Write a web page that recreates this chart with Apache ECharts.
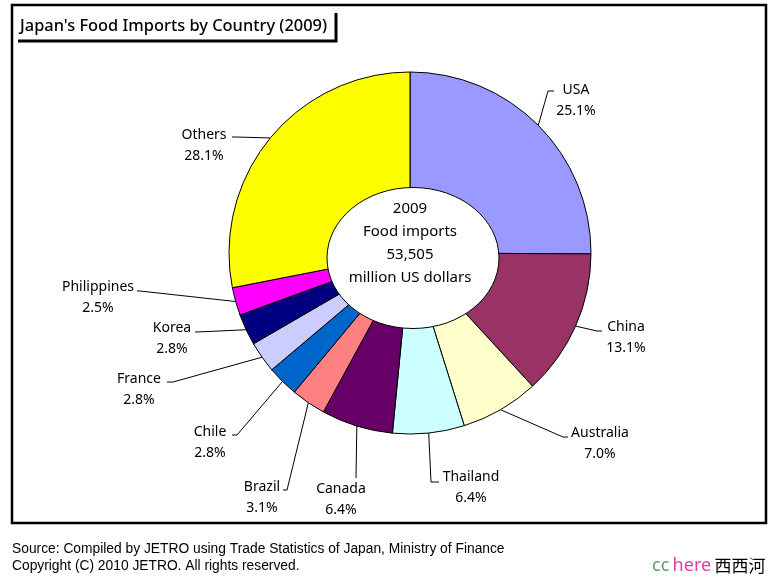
<!DOCTYPE html>
<html>
<head>
<meta charset="utf-8">
<title>Japan's Food Imports by Country (2009)</title>
<script src="https://cdn.jsdelivr.net/npm/echarts@6/dist/echarts.min.js"></script>
<style>
  html, body { margin: 0; padding: 0; background: #fff; }
  #chart { width: 775px; height: 579px; }
</style>
</head>
<body>
<div id="chart"></div>
<script>
// data, clockwise from 12 o'clock
const countries = ['USA', 'China', 'Australia', 'Thailand', 'Canada', 'Brazil', 'Chile', 'France', 'Korea', 'Philippines', 'Others']
const shares = [25.1, 13.1, 7.0, 6.4, 6.4, 3.1, 2.8, 2.8, 2.8, 2.5, 28.1]
const sliceColors = ['#9999ff', '#993366', '#ffffcc', '#ccffff', '#660066', '#ff8080', '#0066cc', '#ccccff', '#000080', '#ff00ff', '#ffff00']
const centerLines = ['2009', 'Food imports', '53,505', 'million US dollars']
const titleText = "Japan's Food Imports by Country (2009)"
const footerLines = [
  'Source: Compiled by JETRO using Trade Statistics of Japan, Ministry of Finance',
  'Copyright (C) 2010 JETRO. All rights reserved.',
]

// layout
const CX = 410
const CY = 253
const R = 181
const LINE_H = 21
// [text centre x, name line y, bend x, bend y, end x, end y]
const labelSpots = [
  [576, 90, 548, 91, 554, 91],
  [626, 327, 597, 331, 602, 331],
  [600, 433, 563, 437, 568, 437],
  [471, 477, 431, 482, 439, 482],
  [341, 489, 356, 478, 356, 478],
  [262, 487, 287, 490, 283, 490],
  [210, 432, 237, 435, 232, 435],
  [139, 379, 173, 382, 167, 382],
  [172, 328, 197, 332, 195, 332],
  [98, 287, 140, 291, 137, 291],
  [204, 135, 236, 137, 232, 137],
]

const FONT = "'Noto Sans', 'Noto Sans CJK JP', sans-serif"

// 扇区中点在外圆上的坐标
const total = shares.reduce((a, b) => a + b, 0)
const edgePoint = (idx) => {
  let before = 0
  for (let i = 0; i < idx; i++) before += shares[i]
  const ang = ((before + shares[idx] / 2) / total) * Math.PI * 2
  return [CX + R * Math.sin(ang), CY - R * Math.cos(ang)]
}

const chart = echarts.init(document.getElementById('chart'), null, { renderer: 'canvas' })

const option = {
  animation: false,
  backgroundColor: '#fff',
  series: [
    {
      type: 'pie',
      center: [CX, CY],
      radius: [0, R],
      startAngle: 90,
      clockwise: true,
      avoidLabelOverlap: false,
      itemStyle: { borderColor: '#000', borderWidth: 1 },
      emphasis: { disabled: true },
      label: {
        show: true,
        position: 'outside',
        fontFamily: FONT,
        fontSize: 14,
        lineHeight: LINE_H,
        color: '#000',
        formatter: (p) => p.name + '\n' + p.value.toFixed(1) + '%',
      },
      labelLine: {
        show: true,
        smooth: false,
        lineStyle: { color: '#000', width: 1 },
      },
      labelLayout: (params) => {
        const s = labelSpots[params.dataIndex]
        return {
          x: s[0],
          y: s[1] - LINE_H / 2,
          align: 'center',
          verticalAlign: 'top',
          labelLinePoints: [edgePoint(params.dataIndex), [s[2], s[3]], [s[4], s[5]]],
        }
      },
      data: countries.map((name, i) => ({
        name,
        value: shares[i],
        itemStyle: { color: sliceColors[i] },
      })),
    },
  ],
  graphic: [
    // outer frame
    {
      type: 'rect',
      z: 100,
      shape: { x: 12, y: 5, width: 754, height: 518 },
      style: { fill: null, stroke: '#000', lineWidth: 2.5 },
    },
    // title box shadow
    {
      type: 'polyline',
      z: 100,
      shape: { points: [[18, 41], [336, 41], [336, 13]] },
      style: { fill: null, stroke: '#000', lineWidth: 3 },
    },
    {
      type: 'text',
      z: 100,
      x: 20,
      y: 26,
      style: {
        text: titleText,
        fontFamily: FONT,
        fontSize: 16.4,
        fontWeight: 500,
        fill: '#000',
        verticalAlign: 'middle',
      },
    },
    // white hole in the middle
    {
      type: 'ellipse',
      z: 100,
      shape: { cx: 413, cy: 258, rx: 86, ry: 70.5 },
      style: { fill: '#fff', stroke: '#000', lineWidth: 1 },
    },
    {
      type: 'text',
      z: 101,
      x: 410,
      y: 243.5,
      style: {
        text: centerLines.join('\n'),
        fontFamily: FONT,
        fontSize: 15,
        lineHeight: 23,
        fill: '#000',
        align: 'center',
        verticalAlign: 'middle',
      },
    },
    // footer
    {
      type: 'text',
      z: 100,
      x: 12,
      y: 557.5,
      style: {
        text: footerLines.join('\n'),
        fontFamily: "'Liberation Sans', Arial, sans-serif",
        fontSize: 13.8,
        lineHeight: 17,
        fill: '#000',
        verticalAlign: 'middle',
      },
    },
    {
      type: 'text',
      z: 100,
      x: 652,
      y: 566,
      style: {
        text: '{g|cc} {p|here} {k|西西河}',
        verticalAlign: 'middle',
        rich: {
          g: { fontFamily: FONT, fontSize: 18, fill: '#5aa05a' },
          p: { fontFamily: FONT, fontSize: 18, fill: '#e0409a' },
          k: { fontFamily: "'Noto Sans CJK SC', sans-serif", fontSize: 17, fill: '#000' },
        },
      },
    },
  ],
}

chart.setOption(option)
</script>
</body>
</html>
